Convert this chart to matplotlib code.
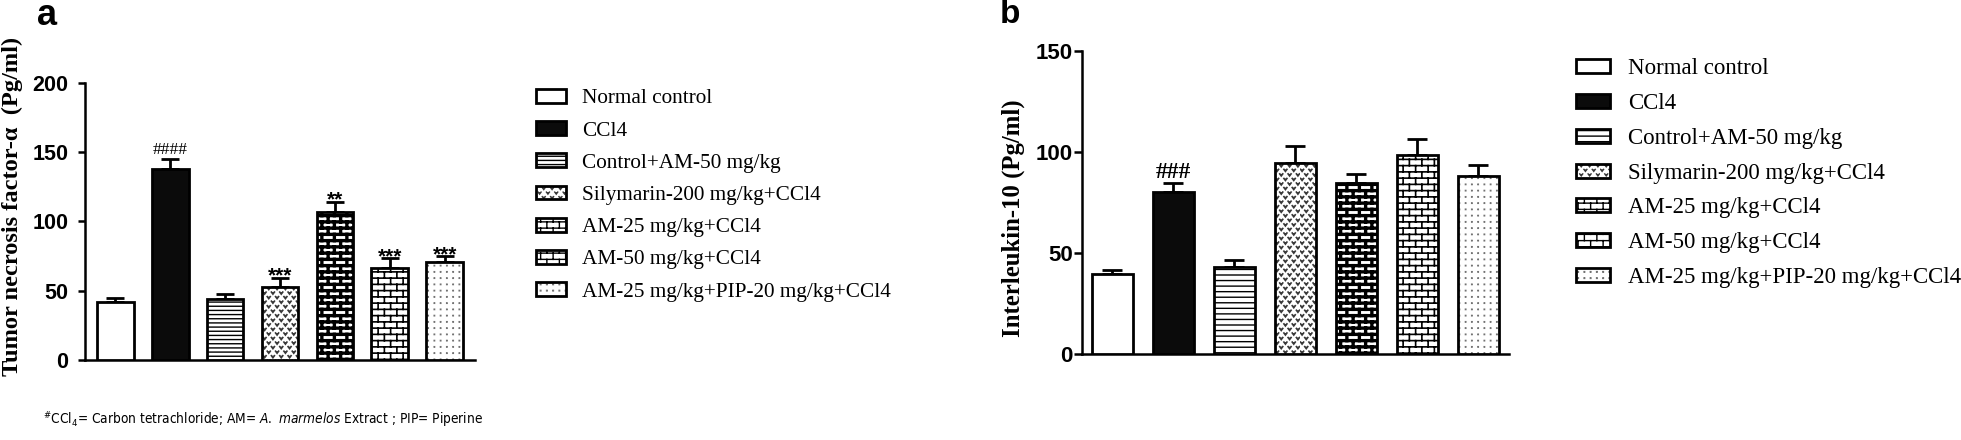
import warnings
warnings.filterwarnings("ignore")
import numpy as np
import matplotlib
matplotlib.use("Agg")
import matplotlib.pyplot as plt
import matplotlib.hatch as mhatch
from matplotlib.path import Path
from matplotlib import font_manager
from matplotlib.font_manager import FontProperties

# ---------------- data ----------------
groups = ["Normal control", "CCl4", "Control+AM-50 mg/kg", "Silymarin-200 mg/kg+CCl4",
          "AM-25 mg/kg+CCl4", "AM-50 mg/kg+CCl4", "AM-25 mg/kg+PIP-20 mg/kg+CCl4"]
tnf_mean = [42, 138, 44, 53, 107, 66, 71]
tnf_sem = [3, 7, 3.4, 6.5, 7.2, 7.3, 3.8]
tnf_marks = ["", "####", "", "***", "**", "***", "***"]
il10_mean = [39.7, 80.3, 43, 94.7, 84.8, 98.3, 88.2]
il10_sem = [2, 4.2, 3.6, 8.2, 4.1, 7.9, 5.2]
il10_marks = ["", "###", "", "", "", "", ""]
tnf_label = "Tumor necrosis factor-\u03b1  (Pg/ml)"
il10_label = "Interleukin-10 (Pg/ml)"
tnf_ticks = [0, 50, 100, 150, 200]
il10_ticks = [0, 50, 100, 150]
footnote = (r"${}^{\mathrm{\#}}$CCl$_{\mathrm{4}}$= Carbon tetrachloride; AM= "
            r"$\mathit{A.\ marmelos}$ Extract ; PIP= Piperine")


# ---------------- custom hatches ----------------
class BrickHatch(mhatch.HatchPatternBase):
    R, C = 16, 8

    def __init__(self, hatch, density):
        on = hatch.count('b') > 0
        R, C = self.R, self.C
        self.num_vertices = (2 * R + 2 * C * R + 2 * C) if on else 0

    def set_vertices_and_codes(self, vertices, codes):
        R, C = self.R, self.C
        ys = (np.arange(R) + 0.5) / R
        segs = []
        for y in ys:
            segs.append(((0.0, y), (1.0, y)))
        for i in range(R):
            xs = (np.arange(C) + 0.25 + 0.5 * (i % 2)) / C
            for x in xs:
                if i < R - 1:
                    segs.append(((x, ys[i]), (x, ys[i + 1])))
                else:
                    segs.append(((x, ys[i]), (x, 1.0)))
                    segs.append(((x, 0.0), (x, ys[0])))
        vertices[:] = np.array(segs, dtype=float).reshape(-1, 2)
        codes[0::2] = Path.MOVETO
        codes[1::2] = Path.LINETO


class ChevronHatch(mhatch.HatchPatternBase):
    R, C = 22, 12

    def __init__(self, hatch, density):
        on = hatch.count('v') > 0
        self.num_vertices = (3 * self.R * self.C) if on else 0

    def set_vertices_and_codes(self, vertices, codes):
        R, C = self.R, self.C
        w, h = 0.03, 0.02
        pts = []
        cds = []
        for i in range(R):
            y = (i + 0.3) / R
            for j in range(C):
                x = (j + 0.25 + 0.5 * (i % 2)) / C
                pts += [(x - w / 2, y + h), (x, y), (x + w / 2, y + h)]
                cds += [Path.MOVETO, Path.LINETO, Path.LINETO]
        vertices[:] = np.array(pts, dtype=float)
        codes[:] = cds


class DotHatch(mhatch.HatchPatternBase):
    R, C = 16, 16

    def __init__(self, hatch, density):
        on = hatch.count('d') > 0
        self.num_vertices = (5 * self.R * self.C) if on else 0

    def set_vertices_and_codes(self, vertices, codes):
        R, C = self.R, self.C
        s = 0.003
        pts = []
        cds = []
        for i in range(R):
            y = (i + 0.5) / R
            for j in range(C):
                x = (j + 0.5) / C
                pts += [(x - s, y - s), (x + s, y - s), (x + s, y + s), (x - s, y + s), (x - s, y - s)]
                cds += [Path.MOVETO, Path.LINETO, Path.LINETO, Path.LINETO, Path.CLOSEPOLY]
        vertices[:] = np.array(pts, dtype=float)
        codes[:] = cds


mhatch._hatch_types.extend([BrickHatch, ChevronHatch, DotHatch])

# ---------------- fonts ----------------
CONDENSED = ('condensed', 'semi-condensed', 'extra-condensed', 'ultra-condensed')
names = {f.name for f in font_manager.fontManager.ttflist}
foot_family, foot_stretch = 'Lato', 'normal'
if 'Liberation Sans Narrow' in names:
    foot_family, foot_stretch = 'Liberation Sans Narrow', 'normal'
else:
    cands = [f for f in font_manager.fontManager.ttflist
             if str(f.stretch) in CONDENSED and f.style == 'normal']
    cands.sort(key=lambda f: (0 if 'Sans' in f.name else 1, f.name))
    if cands:
        foot_family, foot_stretch = cands[0].name, str(cands[0].stretch)

suffix = '' if foot_stretch == 'normal' else ':stretch=' + foot_stretch
plt.rcParams['mathtext.fontset'] = 'custom'
plt.rcParams['mathtext.rm'] = foot_family + suffix
plt.rcParams['mathtext.it'] = foot_family + ':style=italic' + suffix
plt.rcParams['font.family'] = ['Liberation Sans', 'DejaVu Sans']

# ---------------- styles ----------------
styles = [
    dict(fc='white', hatch=None),
    dict(fc='#0b0b0b', hatch=None),
    dict(fc='white', hatch='lines'),
    dict(fc='white', hatch='v', hc=(0.22, 0.22, 0.22, 1), hlw=1.2),
    dict(fc='white', hatch='b', hlw=2.4),
    dict(fc='white', hatch='b', hlw=1.2),
    dict(fc='white', hatch='d', hc=(0.45, 0.45, 0.45, 1), hlw=0.9),
]

W, H = 1961, 440
fig = plt.figure(figsize=(W / 100, H / 100), dpi=100)
renderer = fig.canvas.get_renderer()


def px_rect(x0, x1, y_top, y_bot):
    return [x0 / W, 1 - y_bot / H, (x1 - x0) / W, (y_bot - y_top) / H]


def fit_text(t, target_px, horizontal=True):
    """Scale a text's font size so its extent along its reading direction hits target_px."""
    bb = t.get_window_extent(renderer=renderer)
    cur = bb.width if horizontal else bb.height
    if cur > 0:
        t.set_fontsize(t.get_fontsize() * target_px / cur)


def draw_panel(ax, means, sems, marks, ticks, ylim, xlim, line_hatch, capsize,
               tick_fs, tick_pad, tick_len, mark_specs):
    x = np.arange(len(groups))
    handles = []
    for i, g in enumerate(groups):
        st = styles[i]
        hatch = line_hatch if st['hatch'] == 'lines' else st['hatch']
        bc = ax.bar(x[i], means[i], width=0.67, color=st['fc'], edgecolor='black',
                    linewidth=2.0, hatch=hatch, label=g, zorder=3)
        p = bc.patches[0]
        if 'hlw' in st:
            if hasattr(p, 'set_hatch_linewidth'):
                p.set_hatch_linewidth(st['hlw'])
            else:
                p._hatch_linewidth = st['hlw']
        if 'hc' in st:
            if hasattr(p, 'set_hatchcolor'):
                p.set_hatchcolor(st['hc'])
            else:
                p._hatch_color = st['hc']
        handles.append(bc)
    ax.errorbar(x, means, yerr=[np.zeros(len(x)), sems], fmt='none', ecolor='black',
                elinewidth=2.0, capsize=capsize, capthick=2.0, zorder=2)
    for i, m in enumerate(marks):
        if not m:
            continue
        spec = mark_specs[m[0]]
        ax.annotate(m, xy=(x[i], means[i] + sems[i]), xytext=(0, spec['off']),
                    textcoords='offset points', ha='center', va='baseline',
                    fontsize=spec['fs'], fontfamily=spec['family'],
                    fontweight=spec['weight'], zorder=4)
    ax.set_xlim(*xlim)
    ax.set_ylim(*ylim)
    ax.set_yticks(ticks)
    ax.set_yticklabels([str(t) for t in ticks])
    ax.set_xticks([])
    for s in ['top', 'right']:
        ax.spines[s].set_visible(False)
    for s in ['left', 'bottom']:
        ax.spines[s].set_linewidth(1.8)
    ax.tick_params(axis='y', direction='out', length=tick_len, width=1.8,
                   pad=tick_pad, labelsize=tick_fs)
    for lab in ax.get_yticklabels():
        lab.set_fontweight('bold')
        lab.set_fontfamily('Liberation Sans')
    return handles


# ---------------- panel a ----------------
axa = fig.add_axes(px_rect(85, 475, 82.7, 360))
ha = draw_panel(axa, tnf_mean, tnf_sem, tnf_marks, tnf_ticks, (0, 200), (-0.55, 6.55),
                '----', 6.5, 15.5, 7, 5,
                {'#': dict(fs=12.5, family='Liberation Serif', weight='normal', off=3.5),
                 '*': dict(fs=15, family='Liberation Sans', weight='bold', off=-3.0)})
axa.set_ylabel(tnf_label, fontfamily='Liberation Serif', fontweight='bold',
               fontsize=19, va='center')
axa.yaxis.set_label_coords(-0.187, 0.555)
fit_text(axa.yaxis.label, 338, horizontal=False)

# ---------------- panel b ----------------
axb = fig.add_axes(px_rect(1081.7, 1509, 50.7, 354.3))
hb = draw_panel(axb, il10_mean, il10_sem, il10_marks, il10_ticks, (0, 150), (-0.5, 6.5),
                '---', 7.5, 16, 1, 5.5,
                {'#': dict(fs=17, family='Liberation Serif', weight='bold', off=4.0),
                 '*': dict(fs=15, family='Liberation Sans', weight='bold', off=-3.0)})
axb.set_ylabel(il10_label, fontfamily='Liberation Serif', fontweight='bold',
               fontsize=18, va='center')
axb.yaxis.set_label_coords(-0.161, 0.449)
fit_text(axb.yaxis.label, 237, horizontal=False)

# ---------------- legends ----------------
fig.legend(handles=ha, labels=groups, loc='upper left',
           bbox_to_anchor=(536 / W, 1 - 89 / H), frameon=False,
           prop=FontProperties(family='Liberation Serif', size=15.3),
           handlelength=1.42, handleheight=0.63, handletextpad=0.75,
           labelspacing=0.6, borderpad=0, borderaxespad=0)
fig.legend(handles=hb, labels=groups, loc='upper left',
           bbox_to_anchor=(1576 / W, 1 - 58.5 / H), frameon=False,
           prop=FontProperties(family='Liberation Serif', size=16.5),
           handlelength=1.48, handleheight=0.55, handletextpad=0.79,
           labelspacing=0.6, borderpad=0, borderaxespad=0)

# ---------------- panel letters and footnote ----------------
fig.text(37 / W, 1 - 25 / H, 'a', fontsize=26, fontweight='bold',
         fontfamily='Liberation Sans', ha='left', va='baseline')
fig.text(1000 / W, 1 - 23 / H, 'b', fontsize=24, fontweight='bold',
         fontfamily='Liberation Sans', ha='left', va='baseline')
foot = fig.text(43 / W, 1 - 424 / H, footnote,
                fontproperties=FontProperties(family=foot_family, stretch=foot_stretch,
                                              size=12.8),
                ha='left', va='baseline')
fit_text(foot, 437, horizontal=True)

fig.savefig('out.png', dpi=100)
